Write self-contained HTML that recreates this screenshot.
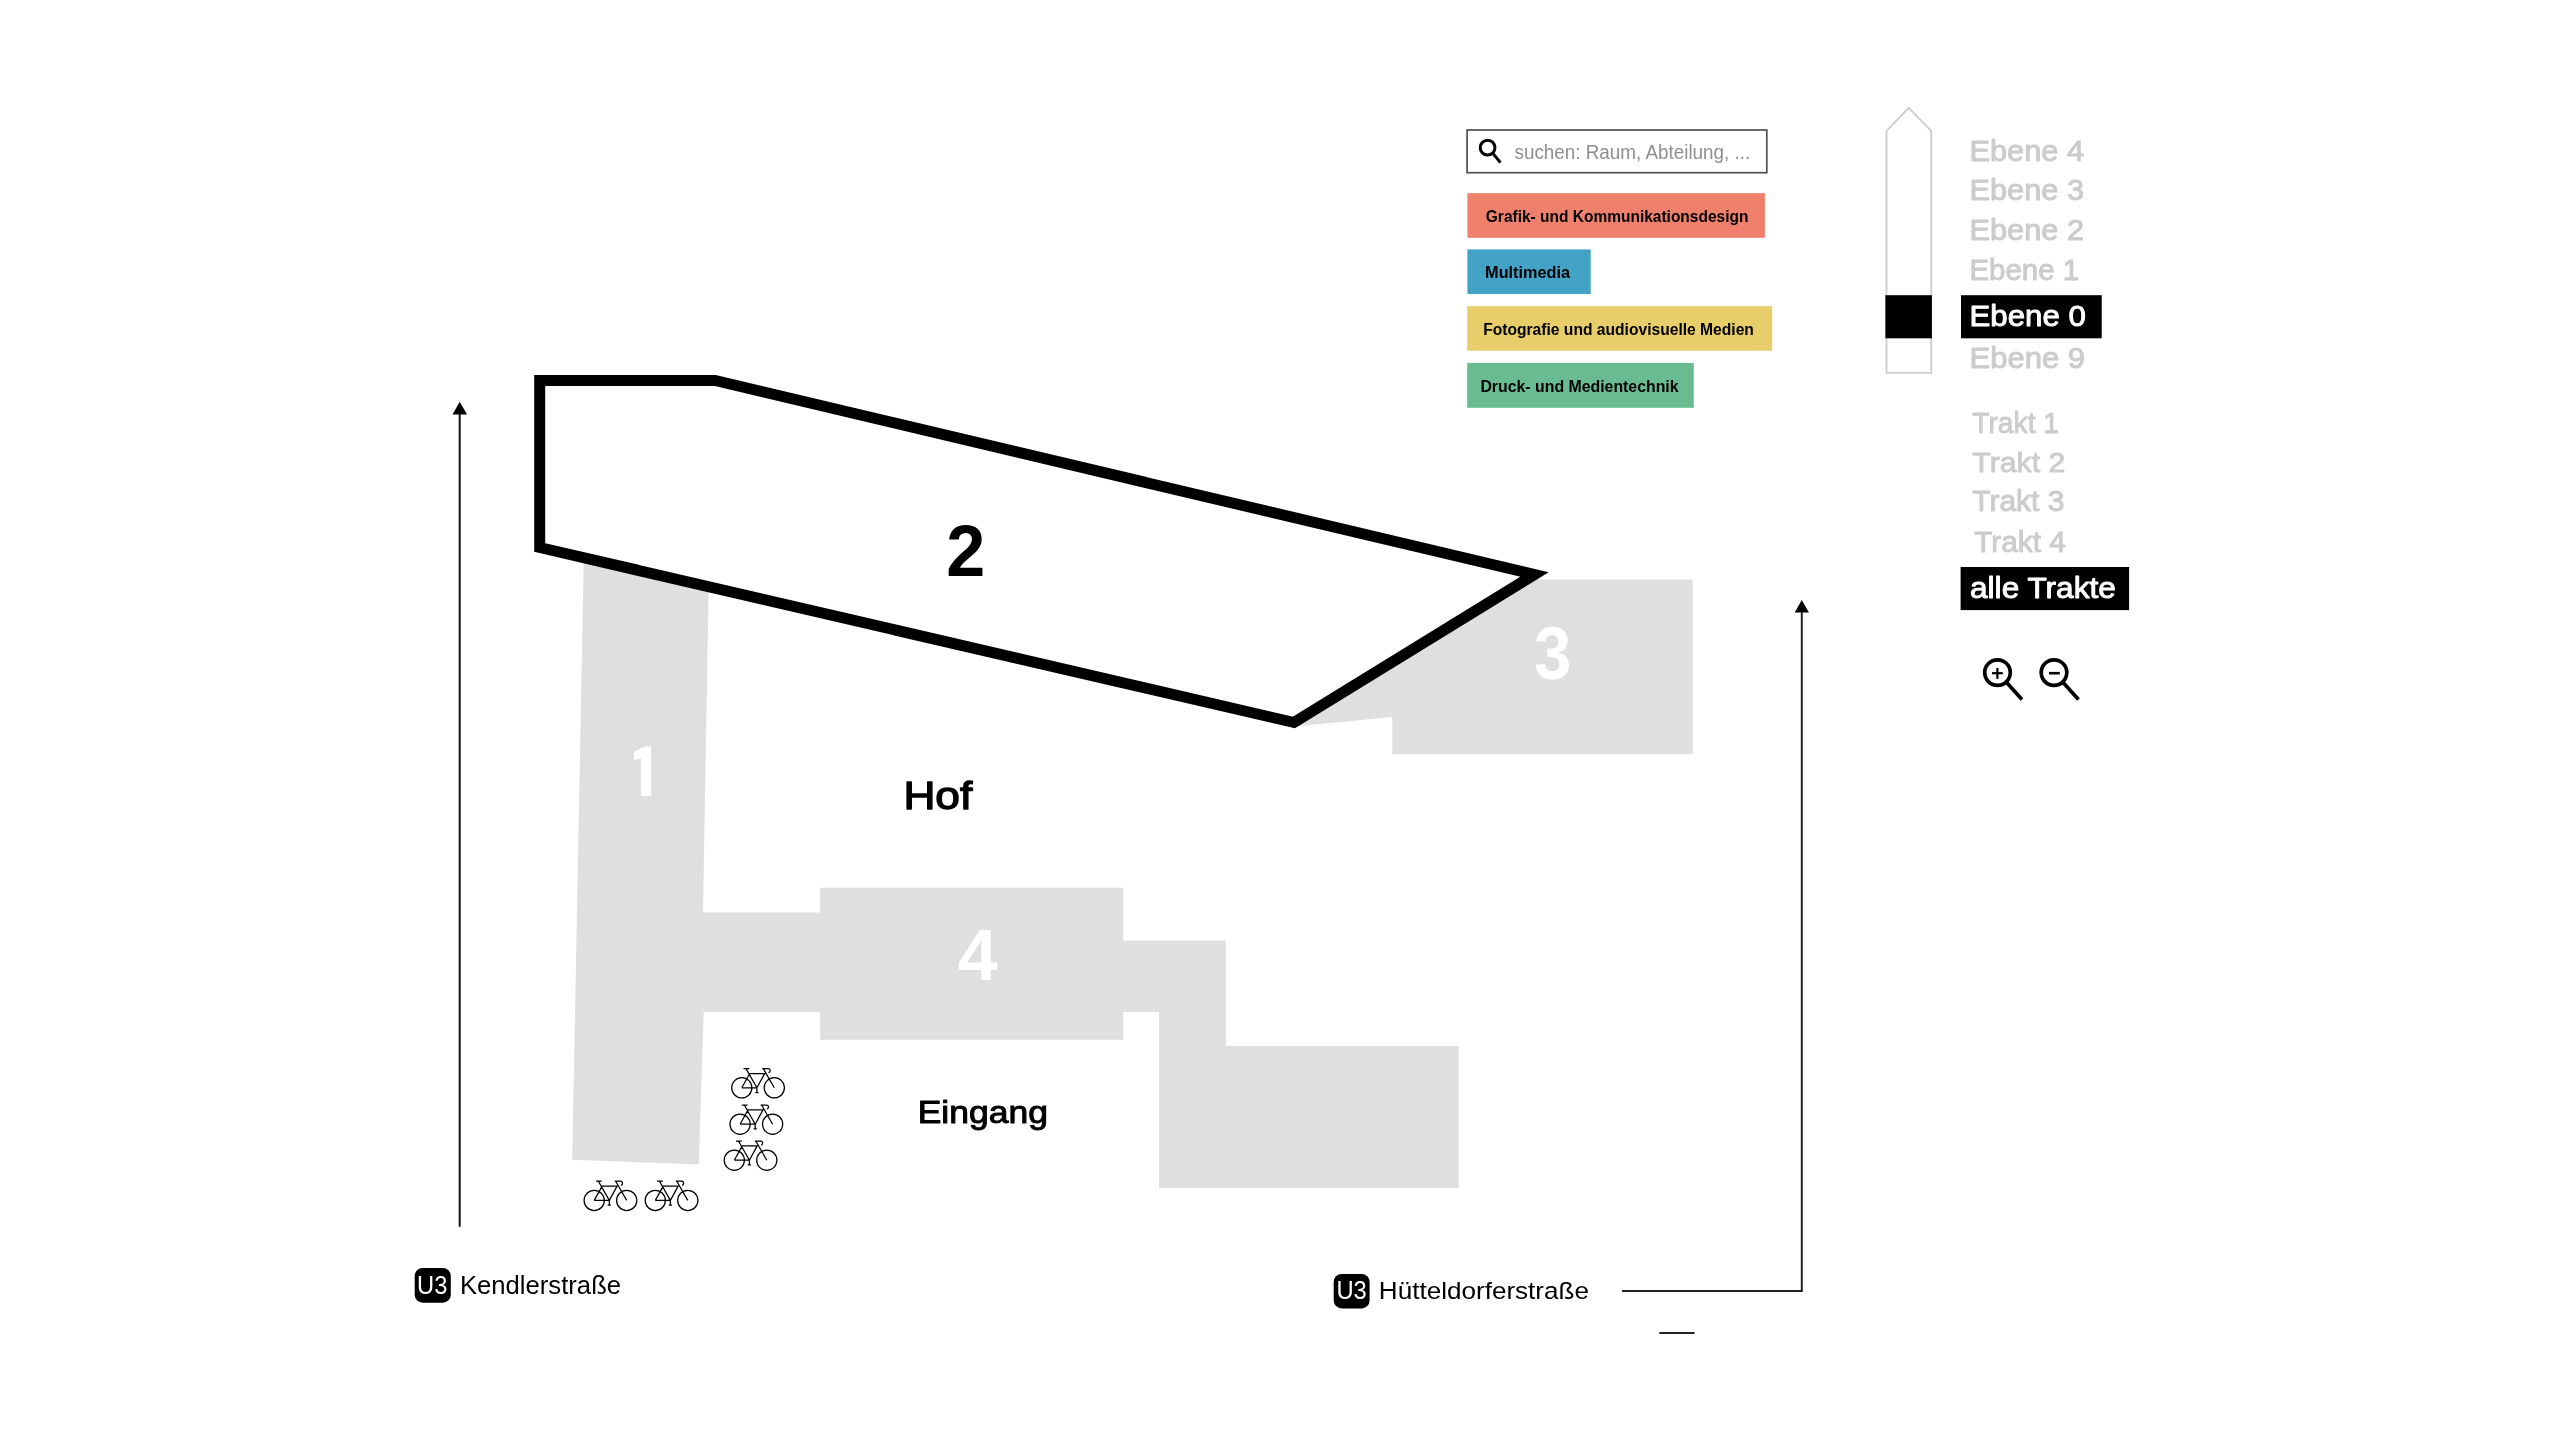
<!DOCTYPE html><html><head><meta charset="utf-8"><style>html,body{margin:0;padding:0;background:#fff;overflow:hidden}svg{display:block;will-change:transform}text{font-family:"Liberation Sans",sans-serif}</style></head><body>
<svg width="2560" height="1440" viewBox="0 0 2560 1440">
<defs><symbol id="bike" viewBox="0 0 53 31" overflow="visible">
<g fill="none" stroke="#000" stroke-width="1.25">
<circle cx="10.1" cy="19.9" r="10.1"/>
<circle cx="42.6" cy="19.9" r="10.1"/>
<path d="M10.1 19.9 H25.2 M10.1 19.9 L18 5.6 H33 L25.2 19.9 M14.3 0.7 L25.2 19.9 M31.6 0.7 L42.6 19.9 M11.8 0.7 H17.6 M30.6 0.7 H36.4 Q38.6 0.7 38.4 3.2 Q38.2 4.6 36.8 4.8 M25.2 19.9 V24.6 M23.6 24.6 H26.8"/>
</g></symbol></defs>
<polygon fill="#dfdfdf" points="583.8,556 708.7,586 703,912.6 703.75,1012 698.8,1164.4 572.2,1159.7"/>
<polygon fill="#dfdfdf" points="690,912.6 820.2,912.6 820.2,887.7 1123.3,887.7 1123.3,940.6 1225.8,940.6 1225.8,1046.1 1458.6,1046.1 1458.6,1188 1159,1188 1159,1012 1123.3,1012 1123.3,1039.8 820.2,1039.8 820.2,1012 690,1012"/>
<polygon fill="#dfdfdf" points="1532.9,579.6 1692.7,579.6 1692.7,754.3 1392.3,754.3 1392.3,716.9 1297,726.3 1295.8,725.5"/>
<polygon fill="#fff" stroke="#000" stroke-width="11" stroke-linejoin="miter" stroke-miterlimit="10" points="539.7,380.5 715,380.5 1534.5,574.5 1294,722.5 539.7,547.5"/>
<polygon fill="#fff" points="633.9,751.9 645,746.4 651.1,746.4 651.1,796.1 641.1,796.1 641.1,758.5 634,760.3"/>
<line x1="459.7" y1="1226" x2="459.7" y2="413" stroke="#111" stroke-width="2" stroke-linecap="round"/>
<polygon fill="#000" points="459.7,401.8 452.5,414.6 467.1,414.6"/>
<polyline fill="none" stroke="#222" stroke-width="2" points="1622,1290.9 1801.8,1290.9 1801.8,611"/>
<polygon fill="#000" points="1801.8,600.1 1794.7,612.4 1808.9,612.4"/>
<line x1="1659.3" y1="1333" x2="1694.5" y2="1333" stroke="#222" stroke-width="2"/>
<rect x="414.7" y="1268" width="36.1" height="34.7" rx="8" fill="#000"/>
<rect x="1333.7" y="1273.9" width="35.9" height="34.5" rx="8" fill="#000"/>
<use href="#bike" x="731.7" y="1067.9" width="53" height="31"/>
<use href="#bike" x="730" y="1104.3" width="53" height="31"/>
<use href="#bike" x="724.2" y="1140.3" width="53" height="31"/>
<use href="#bike" x="584.1" y="1180.5" width="53" height="31"/>
<use href="#bike" x="645.2" y="1180.5" width="53" height="31"/>
<rect x="1467.1" y="130" width="299.7" height="42.7" fill="#fff" stroke="#505050" stroke-width="1.7"/>
<g fill="none" stroke="#000" stroke-width="3"><circle cx="1487.6" cy="147.6" r="7.4"/><line x1="1492.8" y1="153.2" x2="1500.4" y2="162.6"/></g>
<rect x="1467.4" y="193.1" width="297.5" height="44.7" fill="#ef806b"/>
<rect x="1467.4" y="249.4" width="123.3" height="44.6" fill="#43a3c6"/>
<rect x="1467.2" y="306.2" width="305" height="44.5" fill="#e8cd6b"/>
<rect x="1467.2" y="362.9" width="226.6" height="44.9" fill="#69bc92"/>
<polygon fill="#fff" stroke="#cccccc" stroke-width="1.8" points="1886.5,130.8 1908.8,107.8 1931.2,130.8 1931.2,372.8 1886.5,372.8"/>
<rect x="1885.4" y="295.2" width="46.5" height="43.1" fill="#000"/>
<rect x="1961" y="295.2" width="140.7" height="43.1" fill="#000"/>
<rect x="1960.6" y="567" width="168.5" height="43.1" fill="#000"/>
<g fill="none" stroke="#000" stroke-width="3.7"><circle cx="1997.5" cy="672.6" r="12.8"/><line x1="2006.6" y1="682.4" x2="2022" y2="699.6"/><circle cx="2054" cy="672.6" r="12.8"/><line x1="2063.1" y1="682.4" x2="2078.5" y2="699.6"/></g>
<g fill="none" stroke="#000" stroke-width="2.2"><line x1="1992" y1="673.2" x2="2002.8" y2="673.2"/><line x1="1997.4" y1="668" x2="1997.4" y2="678.8"/></g>
<line x1="2049" y1="673.2" x2="2059.8" y2="673.2" stroke="#000" stroke-width="2.6"/>
<text id="t2" x="946.30" y="575.70" font-size="72.61" font-weight="bold" fill="#000" textLength="39.00" lengthAdjust="spacingAndGlyphs">2</text>
<text id="t3" x="1533.90" y="678.60" font-size="73.18" font-weight="bold" fill="#fff" textLength="37.30" lengthAdjust="spacingAndGlyphs">3</text>
<text id="t4" x="958.00" y="979.70" font-size="72.24" font-weight="bold" fill="#fff" textLength="39.60" lengthAdjust="spacingAndGlyphs">4</text>
<text id="thof" x="903.40" y="809.39" font-size="39.65" font-weight="normal" fill="#000" stroke="#000" stroke-width="1.35" stroke-linejoin="round" textLength="68.90" lengthAdjust="spacingAndGlyphs">Hof</text>
<text id="tein" x="917.70" y="1122.86" font-size="32.01" font-weight="normal" fill="#000" stroke="#000" stroke-width="1.02" stroke-linejoin="round" textLength="130.20" lengthAdjust="spacingAndGlyphs">Eingang</text>
<text id="tken" x="459.90" y="1293.70" font-size="25.58" font-weight="normal" fill="#000" textLength="161.20" lengthAdjust="spacingAndGlyphs">Kendlerstraße</text>
<text id="tu3a" x="417.10" y="1294.00" font-size="26.16" font-weight="normal" fill="#fff" textLength="30.30" lengthAdjust="spacingAndGlyphs">U3</text>
<text id="thue" x="1378.80" y="1299.00" font-size="24.71" font-weight="normal" fill="#000" textLength="210.20" lengthAdjust="spacingAndGlyphs">Hütteldorferstraße</text>
<text id="tu3b" x="1336.40" y="1299.20" font-size="25.29" font-weight="normal" fill="#fff" textLength="30.40" lengthAdjust="spacingAndGlyphs">U3</text>
<text id="tsearch" x="1514.50" y="158.60" font-size="19.87" font-weight="normal" fill="#8f8f8f" textLength="235.70" lengthAdjust="spacingAndGlyphs">suchen: Raum, Abteilung, ...</text>
<text id="tgraf" x="1485.80" y="221.60" font-size="15.99" font-weight="bold" fill="#000" textLength="262.60" lengthAdjust="spacingAndGlyphs">Grafik- und Kommunikationsdesign</text>
<text id="tmult" x="1485.10" y="277.80" font-size="16.13" font-weight="bold" fill="#000" textLength="84.90" lengthAdjust="spacingAndGlyphs">Multimedia</text>
<text id="tfoto" x="1483.20" y="335.10" font-size="16.13" font-weight="bold" fill="#000" textLength="270.70" lengthAdjust="spacingAndGlyphs">Fotografie und audiovisuelle Medien</text>
<text id="tdruck" x="1480.40" y="391.80" font-size="16.13" font-weight="bold" fill="#000" textLength="198.20" lengthAdjust="spacingAndGlyphs">Druck- und Medientechnik</text>
<text id="te4" x="1969.50" y="160.79" font-size="29.47" font-weight="normal" fill="#cccccc" stroke="#cccccc" stroke-width="0.97" stroke-linejoin="round" textLength="114.50" lengthAdjust="spacingAndGlyphs">Ebene 4</text>
<text id="te3" x="1969.50" y="199.90" font-size="28.78" font-weight="normal" fill="#cccccc" stroke="#cccccc" stroke-width="0.95" stroke-linejoin="round" textLength="114.50" lengthAdjust="spacingAndGlyphs">Ebene 3</text>
<text id="te2" x="1969.50" y="239.88" font-size="29.96" font-weight="normal" fill="#cccccc" stroke="#cccccc" stroke-width="0.99" stroke-linejoin="round" textLength="114.50" lengthAdjust="spacingAndGlyphs">Ebene 2</text>
<text id="te1" x="1969.50" y="280.10" font-size="28.78" font-weight="normal" fill="#cccccc" stroke="#cccccc" stroke-width="0.95" stroke-linejoin="round" textLength="109.50" lengthAdjust="spacingAndGlyphs">Ebene 1</text>
<text id="te0" x="1969.50" y="326.39" font-size="29.47" font-weight="normal" fill="#fff" stroke="#fff" stroke-width="0.97" stroke-linejoin="round" textLength="116.30" lengthAdjust="spacingAndGlyphs">Ebene 0</text>
<text id="te9" x="1969.50" y="367.60" font-size="28.78" font-weight="normal" fill="#cccccc" stroke="#cccccc" stroke-width="0.95" stroke-linejoin="round" textLength="115.50" lengthAdjust="spacingAndGlyphs">Ebene 9</text>
<text id="tt1" x="1972.30" y="432.60" font-size="28.92" font-weight="normal" fill="#cccccc" stroke="#cccccc" stroke-width="0.95" stroke-linejoin="round" textLength="86.70" lengthAdjust="spacingAndGlyphs">Trakt 1</text>
<text id="tt2" x="1972.30" y="471.51" font-size="28.51" font-weight="normal" fill="#cccccc" stroke="#cccccc" stroke-width="0.94" stroke-linejoin="round" textLength="93.10" lengthAdjust="spacingAndGlyphs">Trakt 2</text>
<text id="tt3" x="1972.30" y="511.49" font-size="29.34" font-weight="normal" fill="#cccccc" stroke="#cccccc" stroke-width="0.97" stroke-linejoin="round" textLength="92.10" lengthAdjust="spacingAndGlyphs">Trakt 3</text>
<text id="tt4" x="1974.20" y="551.79" font-size="29.47" font-weight="normal" fill="#cccccc" stroke="#cccccc" stroke-width="0.97" stroke-linejoin="round" textLength="91.60" lengthAdjust="spacingAndGlyphs">Trakt 4</text>
<text id="talle" x="1970.00" y="598.11" font-size="28.58" font-weight="normal" fill="#fff" stroke="#fff" stroke-width="0.94" stroke-linejoin="round" textLength="145.90" lengthAdjust="spacingAndGlyphs">alle Trakte</text>
</svg></body></html>
